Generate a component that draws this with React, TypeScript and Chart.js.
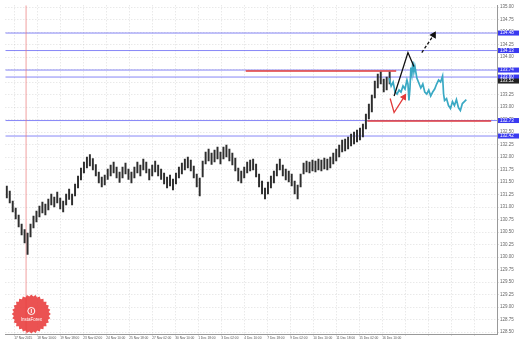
import React, { useEffect, useRef } from "react";
import { Chart, registerables } from "chart.js";
Chart.register(...registerables);

const PRICE_MIN = 128.46;
const PRICE_MAX = 135.035;
const X_MAX = 165.67;

const yTicks = [128.5, 128.75, 129.0, 129.25, 129.5, 129.75, 130.0, 130.25, 130.5, 130.75, 131.0, 131.25, 131.5, 131.75, 132.0, 132.25, 132.5, 132.75, 133.0, 133.25, 133.5, 133.75, 134.0, 134.25, 134.5, 134.75, 135.0];

const dateLabels = ["17 Nov 2015", "18 Nov 10:00", "19 Nov 18:00", "23 Nov 02:00", "24 Nov 10:00", "25 Nov 18:00", "27 Nov 02:00", "30 Nov 10:00", "1 Dec 18:00", "3 Dec 02:00", "4 Dec 10:00", "7 Dec 18:00", "9 Dec 02:00", "10 Dec 10:00", "11 Dec 18:00", "15 Dec 02:00", "16 Dec 10:00", "", "", "", ""];
const dateTickPos = [3, 10.75, 18.5, 26.25, 34, 41.75, 49.5, 57.25, 65, 72.75, 80.5, 88.25, 96, 103.75, 111.5, 119.25, 127, 134.75, 142.5, 150.25, 158];

const barHighs = [131.42, 131.32, 131.12, 130.98, 130.84, 130.66, 130.55, 130.48, 130.66, 130.82, 130.92, 131.02, 131.10, 131.06, 131.16, 131.26, 131.20, 131.30, 131.18, 131.12, 131.26, 131.36, 131.26, 131.46, 131.62, 131.78, 131.90, 132.00, 132.05, 131.97, 131.85, 131.70, 131.60, 131.64, 131.76, 131.84, 131.90, 131.80, 131.70, 131.80, 131.88, 131.76, 131.70, 131.80, 131.90, 131.84, 131.96, 131.90, 131.76, 131.84, 131.92, 131.84, 131.76, 131.68, 131.60, 131.64, 131.56, 131.68, 131.80, 131.88, 131.96, 132.00, 131.94, 131.82, 131.66, 131.58, 131.92, 132.10, 132.16, 132.08, 132.14, 132.20, 132.10, 132.20, 132.24, 132.16, 132.08, 131.98, 131.78, 131.72, 131.80, 131.90, 131.94, 131.96, 131.86, 131.66, 131.52, 131.38, 131.50, 131.62, 131.72, 131.86, 131.96, 131.84, 131.76, 131.72, 131.66, 131.52, 131.44, 131.66, 131.88, 131.92, 131.90, 131.94, 131.92, 131.96, 131.94, 131.98, 131.96, 132.00, 132.08, 132.16, 132.24, 132.34, 132.36, 132.40, 132.46, 132.50, 132.54, 132.58, 132.66, 132.86, 133.06, 133.24, 133.52, 133.66, 133.70, 133.56, 133.60, 133.70];
const barLows = [131.18, 131.08, 130.90, 130.76, 130.60, 130.44, 130.28, 130.05, 130.40, 130.58, 130.70, 130.80, 130.88, 130.84, 130.94, 131.04, 131.00, 131.08, 130.96, 130.90, 131.04, 131.15, 131.04, 131.22, 131.38, 131.54, 131.68, 131.78, 131.82, 131.74, 131.62, 131.48, 131.40, 131.44, 131.55, 131.62, 131.68, 131.58, 131.49, 131.58, 131.66, 131.55, 131.48, 131.58, 131.68, 131.62, 131.74, 131.68, 131.54, 131.62, 131.70, 131.62, 131.55, 131.46, 131.38, 131.42, 131.34, 131.46, 131.58, 131.66, 131.74, 131.78, 131.72, 131.58, 131.40, 131.22, 131.60, 131.86, 131.92, 131.85, 131.90, 131.96, 131.86, 131.96, 132.00, 131.92, 131.84, 131.72, 131.52, 131.48, 131.58, 131.68, 131.72, 131.74, 131.60, 131.40, 131.26, 131.16, 131.26, 131.38, 131.48, 131.62, 131.74, 131.62, 131.54, 131.50, 131.42, 131.26, 131.16, 131.40, 131.66, 131.70, 131.68, 131.72, 131.70, 131.74, 131.72, 131.76, 131.74, 131.78, 131.86, 131.92, 132.00, 132.10, 132.12, 132.16, 132.22, 132.26, 132.30, 132.34, 132.40, 132.56, 132.76, 132.90, 133.18, 133.38, 133.46, 133.30, 133.34, 133.46];

const forecastX = [129.33, 130, 130.67, 131.33, 132, 132.67, 133.33, 134, 134.67, 135.33, 135.67, 136, 136.33, 136.67, 137, 137.33, 137.67, 138, 138.67, 139.33, 140, 140.67, 141.33, 142, 142.67, 143.33, 144, 144.67, 145.33, 146, 146.67, 147.33, 147.67, 148, 148.67, 149.33, 150, 150.67, 151.33, 152, 152.67, 153.33, 154, 154.67, 155.33];
const forecastY = [133.58, 133.42, 133.50, 133.30, 133.26, 133.34, 133.30, 133.42, 133.36, 133.54, 133.46, 133.13, 133.36, 133.79, 133.66, 133.91, 133.70, 133.81, 133.58, 133.48, 133.38, 133.46, 133.30, 133.26, 133.34, 133.22, 133.30, 133.36, 133.46, 133.54, 133.50, 133.62, 133.26, 133.13, 133.17, 133.03, 132.97, 133.11, 133.03, 133.15, 132.99, 132.93, 133.07, 133.11, 133.15];

const blueLevels = [134.48, 134.13, 133.74, 133.60, 132.73, 132.42];
const redLevels = [133.72, 132.72];
const redLevelStart = [81, 122];
const redLevelEnd = [131.7, 163.7];
const markerLineX = 7;
const currentPrice = 133.52;

const solidArrowX = [131, 135.67, 137.67];
const solidArrowY = [133.22, 134.09, 133.81];
const dashedArrowX = [140.33, 144.33];
const dashedArrowY = [134.09, 134.44];
const redArrowX = [129.67, 131, 134.33];
const redArrowY = [133.17, 132.89, 133.20];

const FONT = "'Liberation Sans', Arial, sans-serif";

const overlayPlugin = {
  id: "overlay",
  afterDraw(chart: any) {
    const { ctx, chartArea, scales } = chart;
    const ys = scales.y;
    ctx.save();
    const boxes = blueLevels.map((v) => ({ v, c: "#3a3af0" })).concat([{ v: currentPrice, c: "#222" }]);
    boxes.forEach((b) => {
      const y = ys.getPixelForValue(b.v);
      ctx.fillStyle = b.c;
      ctx.fillRect(chartArea.right + 1, y - 2.5, 21, 5);
      ctx.fillStyle = "#fff";
      ctx.font = `4.5px ${FONT}`;
      ctx.textBaseline = "middle";
      ctx.textAlign = "left";
      ctx.fillText(b.v.toFixed(2), chartArea.right + 3, y + 0.2);
    });
    const cx = chartArea.left + 26;
    const cy = chartArea.bottom - 20;
    ctx.beginPath();
    const spikes = 28;
    for (let k = 0; k < spikes * 2; k++) {
      const r = k % 2 === 0 ? 19.5 : 17.5;
      const a = (Math.PI * k) / spikes;
      const px = cx + r * Math.cos(a);
      const py = cy + r * Math.sin(a);
      if (k === 0) ctx.moveTo(px, py);
      else ctx.lineTo(px, py);
    }
    ctx.closePath();
    ctx.fillStyle = "rgba(232,58,58,0.88)";
    ctx.fill();
    ctx.beginPath();
    ctx.arc(cx, cy - 3, 3.5, 0, Math.PI * 2);
    ctx.strokeStyle = "#fff";
    ctx.lineWidth = 1;
    ctx.stroke();
    ctx.beginPath();
    ctx.moveTo(cx, cy - 5);
    ctx.lineTo(cx, cy - 1);
    ctx.stroke();
    ctx.fillStyle = "#fff";
    ctx.font = `4.5px ${FONT}`;
    ctx.textAlign = "center";
    ctx.textBaseline = "middle";
    ctx.fillText("InstaForex", cx, cy + 6);
    ctx.restore();
  },
};

const bg = {
  id: "bg",
  beforeDraw(chart: any) {
    const { ctx, width, height } = chart;
    ctx.save();
    ctx.fillStyle = "#fff";
    ctx.fillRect(0, 0, width, height);
    ctx.restore();
  },
};

export default function App() {
  const ref = useRef<HTMLCanvasElement | null>(null);
  useEffect(() => {
    document.body.style.margin = "0";
    const hLine = (v: number, x0: number, x1: number) => [
      { x: x0, y: v },
      { x: x1, y: v },
    ];
    const datasets: any[] = [];
    blueLevels.forEach((v) =>
      datasets.push({ type: "line", data: hLine(v, 0, X_MAX), borderColor: "rgba(105,105,245,0.8)", borderWidth: 1, pointRadius: 0, order: 10 })
    );
    datasets.push({
      type: "line",
      data: [
        { x: markerLineX, y: PRICE_MIN },
        { x: markerLineX, y: PRICE_MAX },
      ],
      borderColor: "rgba(235,120,120,0.7)",
      borderWidth: 1,
      pointRadius: 0,
      order: 9,
    });
    redLevels.forEach((v, k) =>
      datasets.push({ type: "line", data: hLine(v, redLevelStart[k], redLevelEnd[k]), borderColor: "#e23a3a", borderWidth: 1.5, pointRadius: 0, order: 8 })
    );
    datasets.push({
      type: "bar",
      data: barHighs.map((h, i) => ({ x: i + 0.5, y: [barLows[i], h] })),
      backgroundColor: "#2e2e2e",
      barThickness: 1.3,
      grouped: false,
      order: 5,
    });
    datasets.push({
      type: "line",
      data: forecastX.map((x, i) => ({ x, y: forecastY[i] })),
      borderColor: "#3aa9c4",
      borderWidth: 1.7,
      pointRadius: 0,
      tension: 0,
      order: 4,
    });
    datasets.push({
      type: "line",
      data: solidArrowX.map((x, i) => ({ x, y: solidArrowY[i] })),
      borderColor: "#111",
      borderWidth: 1.3,
      pointRadius: 0,
      order: 2,
    });
    datasets.push({
      type: "line",
      data: dashedArrowX.map((x, i) => ({ x, y: dashedArrowY[i] })),
      borderColor: "#111",
      borderWidth: 1.3,
      borderDash: [3, 2],
      pointRadius: [0, 3],
      pointStyle: "triangle",
      rotation: 30,
      pointBackgroundColor: "#111",
      pointBorderColor: "#111",
      order: 2,
    });
    datasets.push({
      type: "line",
      data: redArrowX.map((x, i) => ({ x, y: redArrowY[i] })),
      borderColor: "#e23a3a",
      borderWidth: 1.3,
      pointRadius: [0, 0, 2.8],
      pointStyle: "triangle",
      rotation: 32,
      pointBackgroundColor: "#e23a3a",
      pointBorderColor: "#e23a3a",
      order: 2,
    });

    const chart = new Chart(ref.current as HTMLCanvasElement, {
      type: "line",
      data: { datasets },
      plugins: [bg, overlayPlugin],
      options: {
        responsive: false,
        animation: false,
        events: [],
        layout: { padding: 0 },
        plugins: { legend: { display: false }, tooltip: { enabled: false } },
        scales: {
          x: {
            type: "linear",
            min: 0,
            max: X_MAX,
            offset: false,
            afterBuildTicks: (s: any) => {
              s.ticks = dateTickPos.map((v) => ({ value: v }));
            },
            afterFit: (s: any) => {
              s.height = 8;
            },
            ticks: {
              autoSkip: false,
              maxRotation: 0,
              minRotation: 0,
              align: "start",
              padding: 0,
              color: "#555",
              font: { size: 3.2, family: FONT },
              callback: (_v: any, i: number) => dateLabels[i] || "",
            },
            grid: { color: "rgba(185,185,185,0.45)", tickLength: 2, offset: false, drawOnChartArea: true },
            border: { display: true, color: "#999", dash: [1, 2] },
          },
          y: {
            type: "linear",
            position: "right",
            min: PRICE_MIN,
            max: PRICE_MAX,
            afterBuildTicks: (s: any) => {
              s.ticks = yTicks.map((v) => ({ value: v }));
            },
            afterFit: (s: any) => {
              s.width = 22;
            },
            ticks: {
              padding: 1,
              color: "#666",
              font: { size: 4.5, family: FONT },
              callback: (v: any) => Number(v).toFixed(2),
            },
            grid: { color: "rgba(185,185,185,0.45)", tickLength: 2 },
            border: { display: true, color: "#999", dash: [1, 2] },
          },
        },
      } as any,
    });
    return () => chart.destroy();
  }, []);
  return <canvas ref={ref} width={519} height={342} style={{ display: "block" }} />;
}
